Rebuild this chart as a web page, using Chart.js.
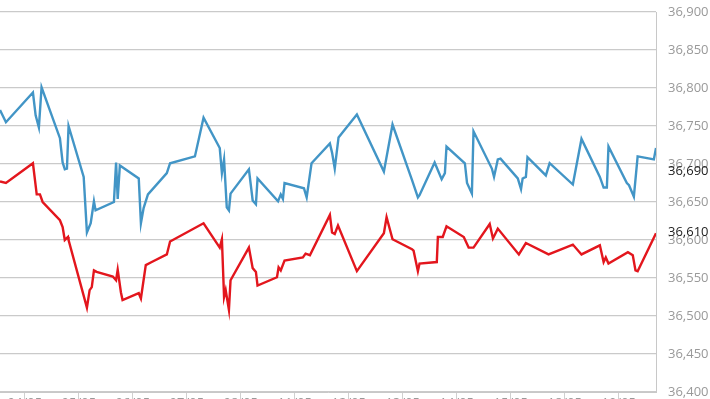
<!DOCTYPE html>
<html>
<head>
<meta charset="utf-8">
<script src="https://cdn.jsdelivr.net/npm/chart.js@4"></script>
<style>
  html, body { margin: 0; padding: 0; background: #fff; width: 710px; height: 399px; overflow: hidden; }
  #wrap { position: relative; width: 710px; height: 422px; }
</style>
</head>
<body>
<div id="wrap"><canvas id="chart"></canvas></div>
<script>
// day labels for the x ticks (0..11)
const dayLabels = ['04/05', '05/05', '06/05', '07/05', '08/05', '11/05', '12/05', '13/05', '14/05', '15/05', '18/05', '19/05'];

// blue series (x = position in days, y = price)
const blueX = [-0.46, -0.35, 0.15, 0.20, 0.26, 0.31, 0.65, 0.70, 0.74, 0.78, 0.81, 1.09, 1.15, 1.22, 1.28, 1.31,
    1.65, 1.69, 1.72, 1.76, 2.11, 2.15, 2.20, 2.28, 2.63, 2.69, 3.15, 3.31, 3.61, 3.65, 3.69, 3.74, 3.78, 3.81,
    4.15, 4.22, 4.28, 4.31, 4.69, 4.74, 4.78, 4.81, 5.17, 5.22, 5.31, 5.65, 5.69, 5.74, 5.81, 6.15, 6.65, 6.81,
    7.17, 7.28, 7.31, 7.59, 7.72, 7.78, 7.81, 8.15, 8.19, 8.28, 8.31, 8.65, 8.69, 8.76, 8.81, 9.13, 9.19, 9.22,
    9.28, 9.31, 9.65, 9.72, 10.15, 10.31, 10.65, 10.72, 10.78, 10.81, 11.15, 11.19, 11.28, 11.35, 11.65, 11.69];
const blueY = [36771, 36755, 36794, 36764, 36748, 36801, 36734, 36702, 36693, 36694, 36750, 36683, 36610, 36622, 36651, 36639,
    36650, 36702, 36654, 36698, 36681, 36622, 36642, 36660, 36688, 36701, 36710, 36761, 36721, 36688, 36706, 36643, 36639, 36661,
    36693, 36652, 36647, 36681, 36651, 36660, 36654, 36675, 36668, 36656, 36701, 36727, 36715, 36694, 36735, 36765, 36690, 36752,
    36679, 36656, 36659, 36702, 36680, 36688, 36723, 36701, 36675, 36661, 36743, 36694, 36683, 36706, 36707, 36681, 36667, 36681,
    36683, 36709, 36685, 36701, 36673, 36733, 36683, 36669, 36669, 36723, 36675, 36672, 36657, 36710, 36706, 36721];

// red series
const redX = [-0.46, -0.35, 0.15, 0.22, 0.28, 0.33, 0.65, 0.70, 0.74, 0.80, 0.81, 1.15, 1.20, 1.24, 1.28, 1.33,
    1.63, 1.69, 1.72, 1.78, 1.81, 2.11, 2.15, 2.24, 2.35, 2.63, 2.69, 3.31, 3.61, 3.65, 3.69, 3.72, 3.78, 3.81,
    4.15, 4.22, 4.28, 4.31, 4.67, 4.70, 4.74, 4.81, 5.15, 5.20, 5.28, 5.65, 5.69, 5.74, 5.80, 6.15, 6.65, 6.70,
    6.81, 7.17, 7.20, 7.28, 7.31, 7.63, 7.65, 7.74, 7.81, 8.13, 8.22, 8.31, 8.61, 8.67, 8.76, 9.15, 9.28, 9.70,
    10.15, 10.31, 10.65, 10.72, 10.76, 10.81, 11.17, 11.26, 11.31, 11.35, 11.69];
const redY = [36677, 36675, 36701, 36660, 36660, 36650, 36626, 36617, 36600, 36604, 36600, 36511, 36534, 36538, 36560, 36558,
    36552, 36547, 36561, 36531, 36521, 36530, 36523, 36567, 36571, 36581, 36598, 36622, 36590, 36601, 36525, 36534, 36508, 36547,
    36590, 36563, 36558, 36540, 36551, 36564, 36560, 36573, 36577, 36582, 36580, 36633, 36610, 36608, 36619, 36559, 36609, 36630,
    36601, 36588, 36586, 36559, 36569, 36571, 36604, 36604, 36618, 36604, 36590, 36590, 36621, 36602, 36615, 36581, 36596, 36581,
    36594, 36581, 36593, 36571, 36577, 36569, 36584, 36580, 36560, 36559, 36609];

// last price markers on the right axis
const lastValues = [36690, 36610];

function toPoints(xs, ys) {
    return xs.map(function (x, i) { return { x: x, y: ys[i] }; });
}

const lastValuePlugin = {
    id: 'lastValues',
    afterDraw: function (chart) {
        const ctx = chart.ctx;
        const y = chart.scales.y;
        ctx.save();
        ctx.font = '13px "Open Sans"';
        ctx.fillStyle = '#222';
        ctx.textAlign = 'left';
        ctx.textBaseline = 'middle';
        lastValues.forEach(function (v) {
            ctx.fillText(v.toLocaleString('en-US'), chart.chartArea.right + 12, y.getPixelForValue(v));
        });
        ctx.restore();
    }
};

new Chart(document.getElementById('chart'), {
    type: 'line',
    data: {
        datasets: [{
            data: toPoints(blueX, blueY),
            borderColor: '#4295c6',
            borderWidth: 2.4,
            pointRadius: 0,
            tension: 0
        }, {
            data: toPoints(redX, redY),
            borderColor: '#e3161d',
            borderWidth: 2.4,
            pointRadius: 0,
            tension: 0
        }]
    },
    options: {
        responsive: true,
        maintainAspectRatio: false,
        animation: false,
        layout: { padding: { top: 12, left: 0, right: 0, bottom: 0 } },
        plugins: { legend: { display: false }, tooltip: { enabled: false } },
        scales: {
            x: {
                type: 'linear',
                min: -0.46,
                max: 11.69,
                grid: { drawOnChartArea: false, color: '#d0d0d0', tickLength: 10 },
                border: { color: '#c8c8c8' },
                ticks: {
                    stepSize: 1,
                    includeBounds: false,
                    padding: -7,
                    color: '#999',
                    font: { family: 'Open Sans', size: 13 },
                    maxRotation: 0,
                    autoSkip: false,
                    callback: function (v) { return dayLabels[v]; }
                },
                afterFit: function (scale) {
                    scale.height = 30;
                    scale.paddingLeft = 0;
                    scale.paddingRight = 0;
                }
            },
            y: {
                position: 'right',
                min: 36400,
                max: 36900,
                grid: { color: '#cacaca', lineWidth: 1.3, drawTicks: false },
                border: { color: '#c8c8c8' },
                ticks: {
                    stepSize: 50,
                    padding: 12,
                    color: '#999',
                    font: { family: 'Open Sans', size: 13 },
                    callback: function (v) { return v.toLocaleString('en-US'); }
                },
                afterFit: function (scale) {
                    scale.width = 54;
                    scale.paddingTop = 0;
                    scale.paddingBottom = 0;
                }
            }
        }
    },
    plugins: [lastValuePlugin]
});
</script>
</body>
</html>
